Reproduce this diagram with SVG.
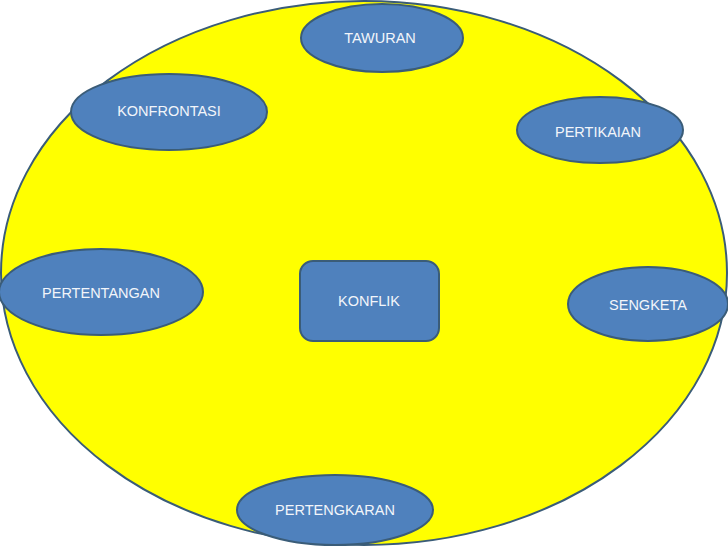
<svg xmlns="http://www.w3.org/2000/svg" width="728" height="546" viewBox="0 0 728 546">
<style>
.node{fill:#4F81BD;stroke:#3A5C78;stroke-width:2}
.lbl{font-family:"Liberation Sans","Open Sans",sans-serif;font-size:14.5px;fill:#F2F5FA;text-anchor:middle;dominant-baseline:central}
</style>
<rect width="728" height="546" fill="#FFFFFF"/>
<g id="background">
<ellipse cx="364" cy="273" rx="363" ry="272" fill="#FFFF00" stroke="#3A5C78" stroke-width="2"/>
</g>
<g id="connectors"></g>
<g id="tawuran">
<ellipse class="node" cx="382" cy="38" rx="81" ry="34"/>
<text class="lbl" x="380" y="38">TAWURAN</text>
</g>
<g id="konfrontasi">
<ellipse class="node" cx="169" cy="112" rx="98" ry="38"/>
<text class="lbl" x="169" y="111">KONFRONTASI</text>
</g>
<g id="pertikaian">
<ellipse class="node" cx="600" cy="130" rx="83" ry="33"/>
<text class="lbl" x="598" y="132">PERTIKAIAN</text>
</g>
<g id="pertentangan">
<ellipse class="node" cx="101" cy="292" rx="102" ry="43"/>
<text class="lbl" x="101" y="293">PERTENTANGAN</text>
</g>
<g id="konflik">
<rect class="node" x="300" y="261" width="139" height="80" rx="13"/>
<text class="lbl" x="369" y="301">KONFLIK</text>
</g>
<g id="sengketa">
<ellipse class="node" cx="648" cy="304" rx="80" ry="37"/>
<text class="lbl" x="648" y="305">SENGKETA</text>
</g>
<g id="pertengkaran">
<ellipse class="node" cx="335" cy="510" rx="98" ry="35"/>
<text class="lbl" x="335" y="510">PERTENGKARAN</text>
</g>
</svg>
